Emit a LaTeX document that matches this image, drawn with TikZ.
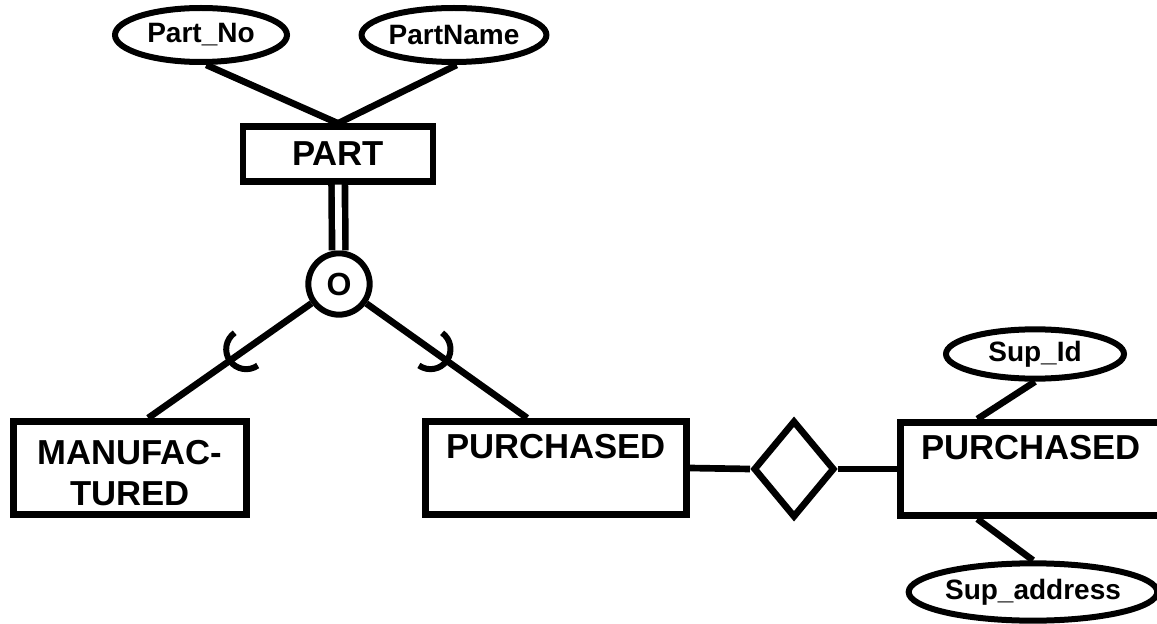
\documentclass[tikz,border=0pt]{standalone}
\usepackage{fontspec}
\setmainfont{Liberation Sans}
\usetikzlibrary{shapes.geometric,decorations.markings}
\begin{document}
\begin{tikzpicture}[x=0.75pt,y=-0.75pt,
 ent/.style={draw, line width=5pt, rectangle, inner sep=0pt, font=\fontsize{26}{31}\selectfont\bfseries, align=center},
 attr/.style={draw, ellipse, line width=4.5pt, inner sep=0pt, font=\fontsize{21}{25}\selectfont\bfseries},
 conn/.style={line width=5pt},
 subarc/.style={postaction={decorate}, decoration={markings, mark=at position 0.5 with {\draw[line width=4.5pt] (-15pt,15pt) arc[start angle=90,end angle=-90,radius=15pt];}}}
]
\useasboundingbox (0,0) rectangle (1157,624);
\node[attr, minimum width=129pt, minimum height=40.5pt] (pno) at (201,35) {Part\_No};
\node[attr, minimum width=132pt, minimum height=40.5pt] (pname) at (454,35) {PartName};
\node[ent, minimum width=142.5pt, minimum height=41pt] (part) at (338,154) {PART};
\node[circle, draw, line width=4.5pt, minimum size=46pt, inner sep=0pt, font=\fontsize{24}{28}\selectfont\bfseries] (circ) at (339,284) {O};
\node[ent, minimum width=175pt, minimum height=70pt] (manuf) at (130,468) {\rule{0pt}{26pt}MANUFAC-\\TURED};
\node[ent, minimum width=196pt, minimum height=70pt] (purch) at (556,468) {\rule{0pt}{26pt}PURCHASED\\\strut};
\node[diamond, draw, line width=5pt, minimum width=61pt, minimum height=73pt, inner sep=0pt] (rel) at (794,469) {};
\node[ent, minimum width=196pt, minimum height=70pt] (purch2) at (1031,469) {\rule{0pt}{26pt}PURCHASED\\\strut};
\node[attr, minimum width=133.5pt, minimum height=37pt] (sid) at (1035,354) {Sup\_Id};
\node[attr, minimum width=160pt, minimum height=43pt] (saddr) at (1033,592) {Sup\_address};
\draw[conn] (pno.-80) -- (part.north);
\draw[conn] (pname.-85) -- (part.north);
\draw[line width=5pt, double, double distance=5pt] (part) -- (circ);
\draw[conn, subarc] (circ) -- (manuf.70);
\draw[conn, subarc] (circ) -- (purch.120);
\draw[conn] (purch.east) -- (rel.west);
\draw[conn] (rel.east) -- (purch2.west);
\draw[conn] (sid.south) -- (purch2.137);
\draw[conn] (purch2.223) -- (saddr.north);
\end{tikzpicture}
\end{document}
